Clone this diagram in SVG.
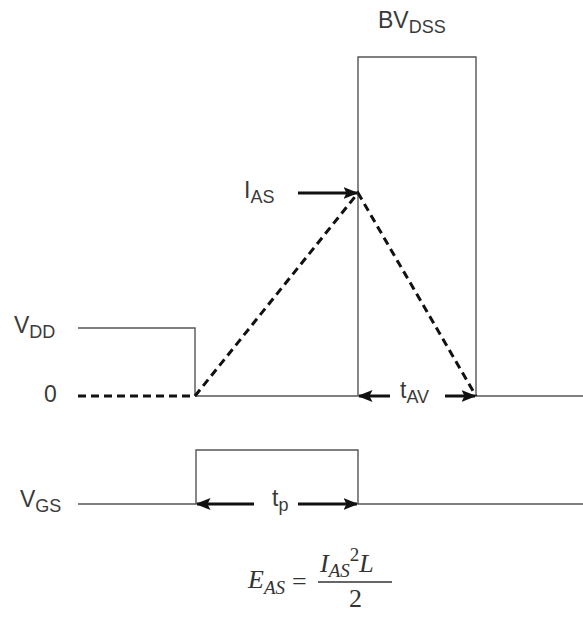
<svg xmlns="http://www.w3.org/2000/svg" width="583" height="619" viewBox="0 0 583 619">
<defs>
<marker id="ah" viewBox="0 0 10 10" refX="9" refY="5" markerWidth="5" markerHeight="5" orient="auto" markerUnits="strokeWidth">
<path d="M0,1 L10,5 L0,9 L2,5 z" fill="#111"/>
</marker>
<style>
.ln{stroke:#555;stroke-width:1.4;fill:none}
.ds{stroke:#111;stroke-width:3;stroke-dasharray:8,5;fill:none}
.ar{stroke:#111;stroke-width:3;fill:none;marker-end:url(#ah)}
.lb{font-family:"Liberation Sans",Arial,sans-serif;font-size:23px;fill:#3a3a3a}
.sb{font-size:18px}
.fm{font-family:"Liberation Serif","Times New Roman",serif;font-style:italic;font-size:26px;fill:#333}
.fs{font-size:19px}
</style>
</defs>
<rect width="583" height="619" fill="#fff"/>
<g id="waveforms">
<polyline class="ln" points="78,328 195,328 195,396"/>
<line class="ln" x1="195" y1="396" x2="358" y2="396"/>
<polyline class="ln" points="358,396 358,57 476,57 476,396"/>
<line class="ln" x1="476" y1="396" x2="583" y2="396"/>
<line class="ln" x1="78" y1="504" x2="196" y2="504"/>
<polyline class="ln" points="196,504 196,450 358,450 358,504"/>
<line class="ln" x1="358" y1="504" x2="583" y2="504"/>
</g>
<g id="connectors">
<line class="ds" x1="78" y1="396" x2="195" y2="396"/>
<polyline class="ds" points="195,396 358,193 476,396"/>
<line class="ar" x1="298" y1="193" x2="357" y2="193"/>
<line class="ar" x1="390" y1="396" x2="359" y2="396"/>
<line class="ar" x1="445" y1="396" x2="475" y2="396"/>
<line class="ar" x1="254" y1="504" x2="197" y2="504"/>
<line class="ar" x1="298" y1="504" x2="357" y2="504"/>
</g>
<g id="labels">
<text class="lb" x="378" y="28">BV<tspan class="sb" dy="5">DSS</tspan></text>
<text class="lb" x="244" y="198">I<tspan class="sb" dy="5">AS</tspan></text>
<text class="lb" x="14" y="333">V<tspan class="sb" dy="5">DD</tspan></text>
<text class="lb" x="44" y="402">0</text>
<text class="lb" x="400" y="398">t<tspan class="sb" dy="5">AV</tspan></text>
<text class="lb" x="20" y="507">V<tspan class="sb" dy="5">GS</tspan></text>
<text class="lb" x="272" y="506">t<tspan class="sb" dy="5">p</tspan></text>
</g>
<g id="formula">
<text class="fm" x="248" y="588">E<tspan class="fs" dy="6">AS</tspan></text>
<text class="fm" x="292" y="590" style="font-style:normal">=</text>
<text class="fm" x="320" y="572">I<tspan class="fs" dy="5">AS</tspan><tspan class="fs" dy="-16" style="font-style:normal">2</tspan><tspan dy="11">L</tspan></text>
<line x1="318" y1="582" x2="392" y2="582" stroke="#333" stroke-width="1.4"/>
<text class="fm" x="349" y="607" style="font-style:normal">2</text>
</g>
</svg>
